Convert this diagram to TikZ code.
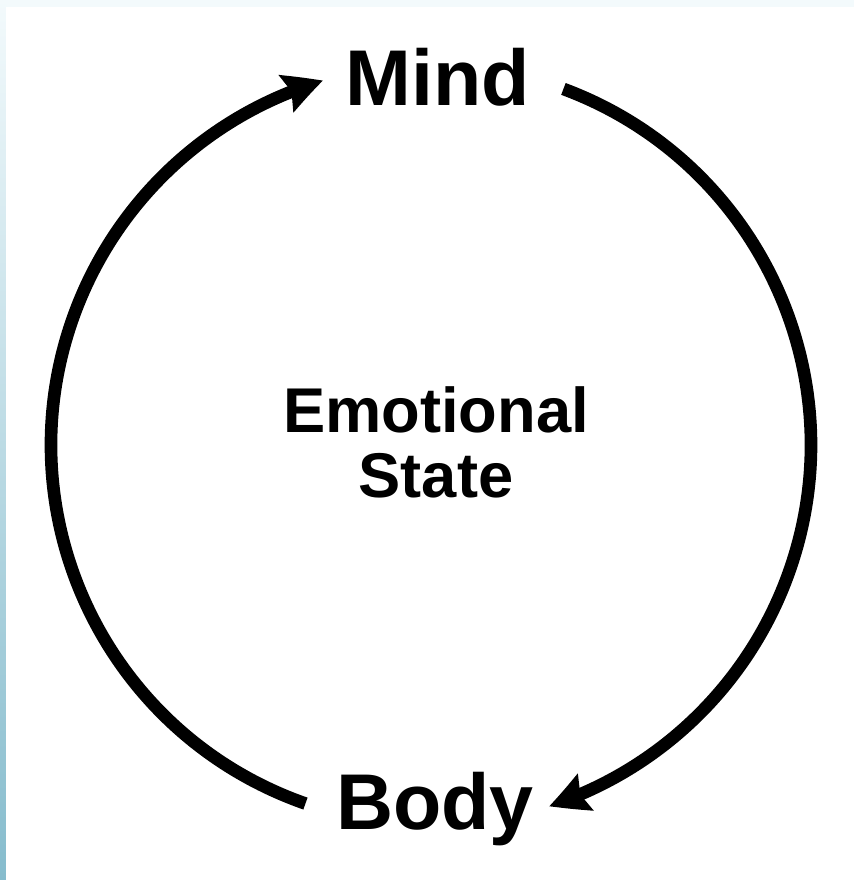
\documentclass[tikz,border=0pt]{standalone}
\usepackage{fontspec}
\setmainfont{Liberation Sans}
\usetikzlibrary{arrows.meta,bending,calc}
\definecolor{paleback}{HTML}{F3FAFC}
\definecolor{stripbot}{HTML}{86BCCD}
\tikzset{
  bigword/.style={font=\bfseries\fontsize{45}{50}\selectfont, inner sep=0pt, anchor=base},
  midword/.style={font=\bfseries\fontsize{36}{37}\selectfont, inner sep=0pt, align=center},
  conn/.style={line width=7.2pt, -{Stealth[length=22pt, width=22pt, inset=3pt, bend]}},
}
\begin{document}
\begin{tikzpicture}[x=0.02cm, y=-0.02cm]
  \useasboundingbox (0,0) rectangle (854,880);
  % background
  \fill[paleback] (0,0) rectangle (854,880);
  \shade[top color=paleback, bottom color=stripbot] (0,0) rectangle (6,880);
  \fill[white] (6,7) rectangle (854,880);
  % nodes
  \node[bigword] (mind) at (438,105) {Mind};
  \node[bigword] (body) at (435,829) {Body};
  \node[midword] (emo) at (436,442) {Emotional\\State};
  % circle geometry
  \coordinate (c) at (431,445);
  \coordinate (rs) at ($(c)+(69.6:7.6cm)$);
  \coordinate (ls) at ($(c)+(250.7:7.6cm)$);
  % connectors
  \draw[conn] (rs) arc[start angle=69.6, end angle=-71.9, radius=7.6cm];
  \draw[conn] (ls) arc[start angle=250.7, end angle=106.5, radius=7.6cm];
\end{tikzpicture}
\end{document}
